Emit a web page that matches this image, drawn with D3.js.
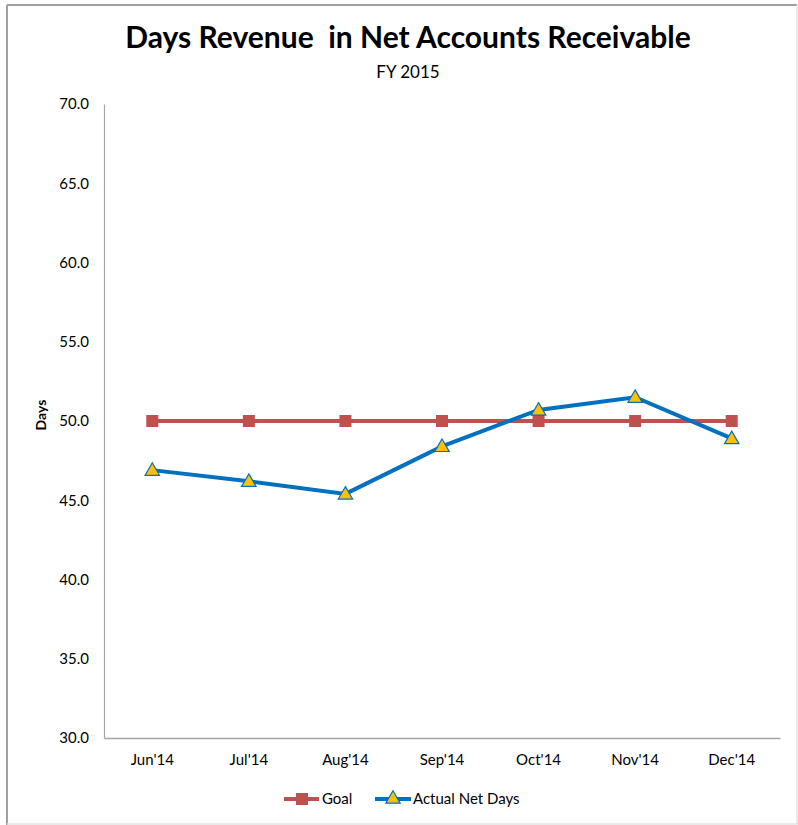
<!DOCTYPE html>
<html>
<head>
<meta charset="utf-8">
<script src="https://cdn.jsdelivr.net/npm/d3@7"></script>
<style>
  body { margin: 0; background: #fff; }
  svg text { font-family: Lato, "Open Sans", sans-serif; fill: #000; }
</style>
</head>
<body>
<div id="chart"></div>
<script>
// chart data
const months = ["Jun'14", "Jul'14", "Aug'14", "Sep'14", "Oct'14", "Nov'14", "Dec'14"];
const goal = [50, 50, 50, 50, 50, 50, 50];
const actual = [46.9, 46.2, 45.4, 48.4, 50.7, 51.5, 48.9];
const yTicks = [30, 35, 40, 45, 50, 55, 60, 65, 70];

const width = 798,
      height = 825,
      margin = ({ top: 104, right: 18, bottom: 87, left: 104 });

let svg = d3.select("#chart")
    .append("svg")
    .attr("width", width)
    .attr("height", height);

// outer frame
svg.append("line").attr("x1", 7).attr("x2", 797).attr("y1", 5).attr("y2", 5)
    .attr("stroke", "#a0a0a0").attr("stroke-width", 2);
svg.append("line").attr("x1", 7).attr("x2", 7).attr("y1", 5).attr("y2", 825)
    .attr("stroke", "#a0a0a0").attr("stroke-width", 2);
svg.append("line").attr("x1", 797).attr("x2", 797).attr("y1", 5).attr("y2", 824)
    .attr("stroke", "#e2e2e2").attr("stroke-width", 1.5);
svg.append("line").attr("x1", 7).attr("x2", 798).attr("y1", 824).attr("y2", 824)
    .attr("stroke", "#e2e2e2").attr("stroke-width", 1.5);

// titles
svg.append("text")
    .attr("x", 408).attr("y", 48)
    .attr("text-anchor", "middle")
    .style("font-size", "30px").style("font-weight", "bold")
    .style("white-space", "pre")
    .text("Days Revenue  in Net Accounts Receivable");

svg.append("text")
    .attr("x", 408).attr("y", 78)
    .attr("text-anchor", "middle")
    .style("font-size", "17px")
    .text("FY 2015");

let x = d3.scaleBand()
    .domain(months)
    .range([margin.left, width - margin.right]);

let y = d3.scaleLinear()
    .domain([30, 70])
    .range([height - margin.bottom, margin.top]);

// axes
let yAxis = svg.append("g")
    .attr("transform", `translate(${margin.left},0)`)
    .call(d3.axisLeft(y).tickValues(yTicks).tickSize(0).tickPadding(15).tickFormat(d3.format(".1f")));
yAxis.select(".domain").attr("stroke", "#a6a6a6").attr("stroke-width", 1.2);
yAxis.selectAll("text").style("font-size", "15px").style("font-family", "Lato, sans-serif");

let xAxis = svg.append("g")
    .attr("transform", `translate(0,${height - margin.bottom})`)
    .call(d3.axisBottom(x).tickSize(0).tickPadding(16));
xAxis.select(".domain").attr("stroke", "#a6a6a6").attr("stroke-width", 1.5);
xAxis.selectAll("text").style("font-size", "15px").style("font-family", "Lato, sans-serif");

svg.append("text")
    .attr("transform", `translate(46,${y(50) - 6}) rotate(-90)`)
    .attr("text-anchor", "middle")
    .style("font-size", "14px").style("font-weight", "bold")
    .text("Days");

const cx = d => x(d) + x.bandwidth() / 2;
const tri = d3.symbol().type(d3.symbolTriangle).size(90);

// goal series
const goalColor = "#c0504d";
svg.append("path")
    .datum(goal)
    .attr("fill", "none")
    .attr("stroke", goalColor)
    .attr("stroke-width", 4)
    .attr("d", d3.line().x((d, i) => cx(months[i])).y(d => y(d)));

svg.selectAll(".goal-pt")
    .data(goal)
    .join("rect")
    .attr("class", "goal-pt")
    .attr("x", (d, i) => cx(months[i]) - 6)
    .attr("y", d => y(d) - 6)
    .attr("width", 12).attr("height", 12)
    .attr("fill", goalColor);

// actual series
const actColor = "#0070c0";
svg.append("path")
    .datum(actual)
    .attr("fill", "none")
    .attr("stroke", actColor)
    .attr("stroke-width", 4)
    .attr("d", d3.line().x((d, i) => cx(months[i])).y(d => y(d)));

svg.selectAll(".act-pt")
    .data(actual)
    .join("path")
    .attr("class", "act-pt")
    .attr("transform", (d, i) => `translate(${cx(months[i])},${y(d) + 1})`)
    .attr("d", tri)
    .attr("fill", "#ffc000")
    .attr("stroke", actColor)
    .attr("stroke-width", 1.2);

// legend
const ly = 799;
let lg = svg.append("g");
lg.append("line").attr("x1", 284).attr("x2", 319).attr("y1", ly).attr("y2", ly)
    .attr("stroke", goalColor).attr("stroke-width", 4);
lg.append("rect").attr("x", 296).attr("y", ly - 6).attr("width", 12).attr("height", 12)
    .attr("fill", goalColor);
lg.append("text").attr("x", 322).attr("y", ly + 5).style("font-size", "15px").text("Goal");

lg.append("line").attr("x1", 375).attr("x2", 411).attr("y1", ly).attr("y2", ly)
    .attr("stroke", actColor).attr("stroke-width", 4);
lg.append("path").attr("transform", `translate(393,${ly})`).attr("d", tri)
    .attr("fill", "#ffc000").attr("stroke", actColor).attr("stroke-width", 1.2);
lg.append("text").attr("x", 413).attr("y", ly + 5).style("font-size", "15px").text("Actual Net Days");
</script>
</body>
</html>
